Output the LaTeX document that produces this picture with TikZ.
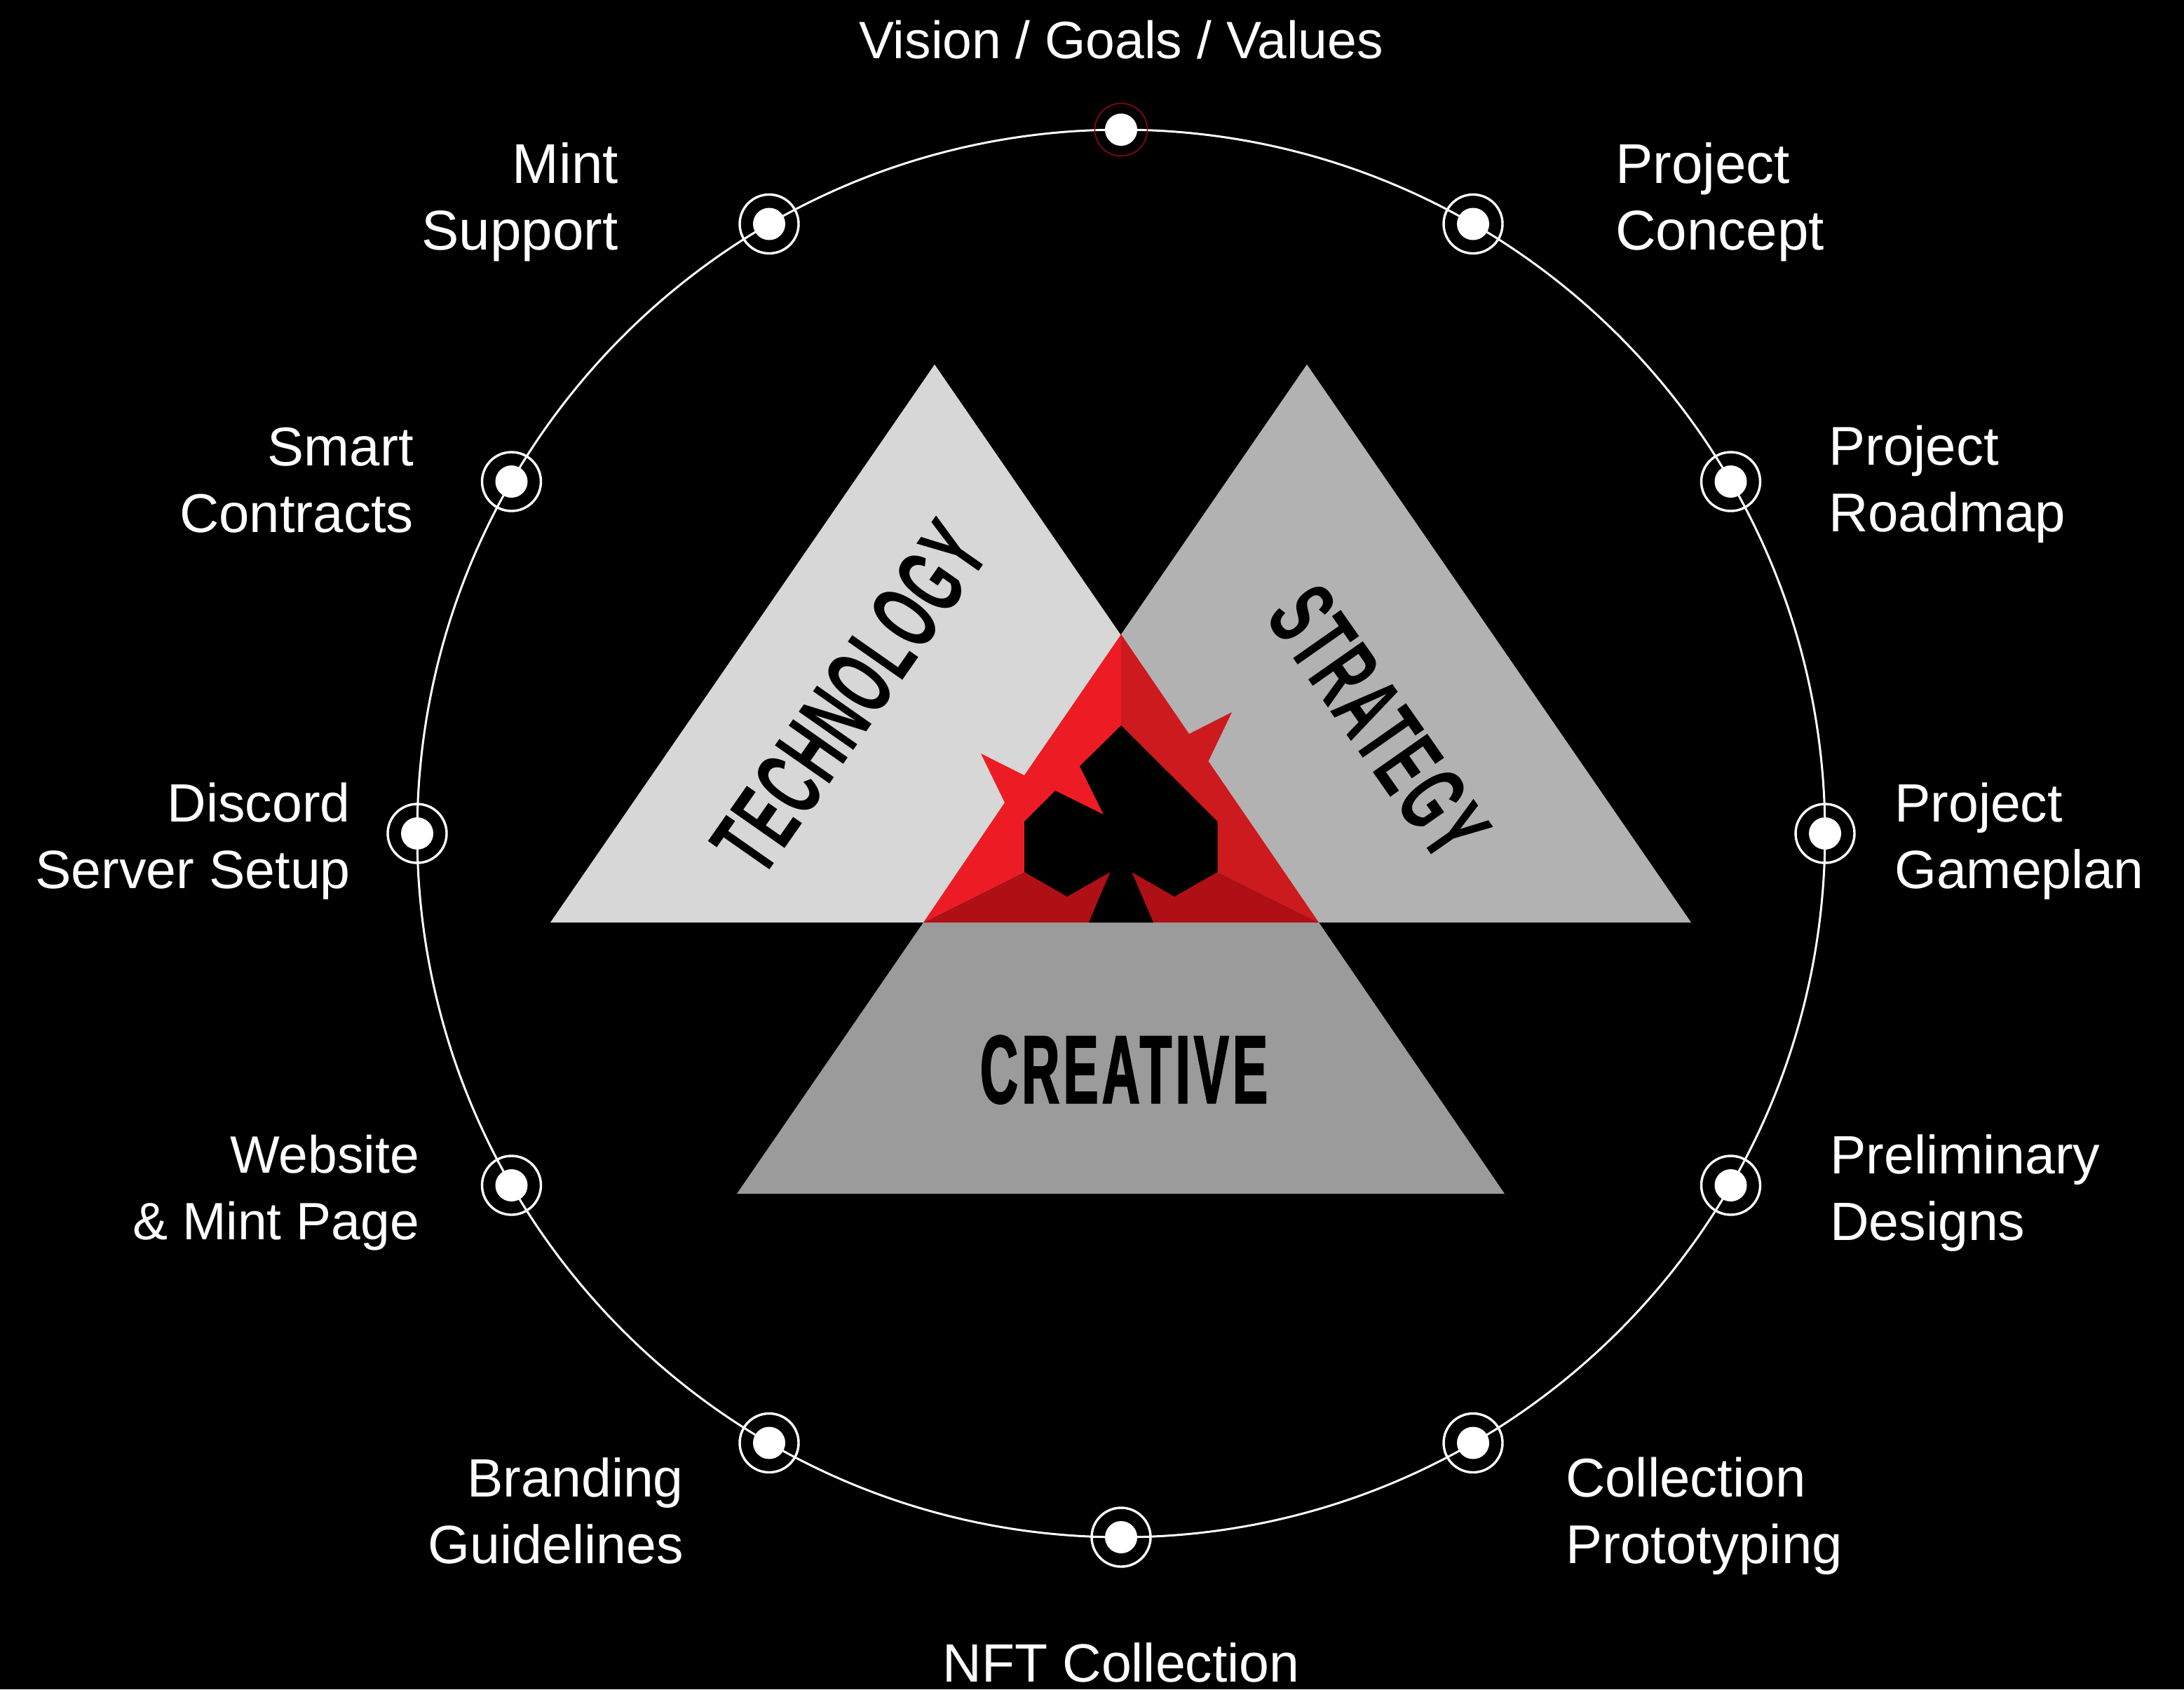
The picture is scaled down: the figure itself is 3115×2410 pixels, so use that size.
\documentclass[tikz,border=0pt]{standalone}
\usepackage{fontspec}
\setmainfont{Liberation Sans}
\newfontfamily\condfont[FakeStretch=0.54,LetterSpace=4,FakeBold=1.5]{Liberation Sans}
\newfontfamily\condfontb[FakeStretch=0.56,LetterSpace=2]{Liberation Sans}
\usetikzlibrary{calc}
\definecolor{techgrey}{HTML}{D7D7D7}
\definecolor{stratgrey}{HTML}{B2B2B2}
\definecolor{creagrey}{HTML}{9B9B9B}
\definecolor{redl}{HTML}{ED1C24}
\definecolor{redr}{HTML}{CC1A1E}
\definecolor{redb}{HTML}{AE1015}
\definecolor{ringred}{HTML}{8A0A10}
\tikzset{
  x=1pt,y=-1pt,
  lab/.style={inner sep=0pt,text=white,font=\fontsize{78}{95}\selectfont},
  labl/.style={lab,anchor=west,align=left},
  labr/.style={lab,anchor=east,align=right},
  labc/.style={lab,anchor=center,align=center},
  labs/.style={font=\fontsize{75}{95}\selectfont},
  labm/.style={font=\fontsize{77}{95}\selectfont},
  labb/.style={font=\fontsize{80}{95}\selectfont},
  dotn/.style={circle,fill=white,draw=none,minimum size=46pt,inner sep=0pt},
  ringn/.style={circle,draw=white,line width=3.4pt,minimum size=84pt,inner sep=0pt},
  ringr/.style={circle,draw=ringred,line width=1.6pt,minimum size=75pt,inner sep=0pt},
  ttl/.style={inner sep=0pt,text=black,font=\condfont\bfseries\fontsize{138}{138}\selectfont},
  ttlb/.style={inner sep=0pt,text=black,font=\condfontb\bfseries\fontsize{138}{138}\selectfont},
}
\begin{document}
\begin{tikzpicture}
\fill[black] (0,0) rectangle (3115,2410);
\useasboundingbox (0,0) rectangle (3115,2410);
\coordinate (c) at (1599,1189);
\draw[white,line width=3pt] (c) circle [radius=1004];
% triangles
\fill[techgrey] (785,1316) -- (1333,520) -- (1881,1316) -- cycle;
\fill[stratgrey] (1599,905) -- (1864,520) -- (2412,1316) -- (1599,1316) -- cycle;
\fill[creagrey] (1317,1316) -- (1881,1316) -- (2146,1703) -- (1051,1703) -- cycle;
% red centre
\fill[redl] (1599,905) -- (1599,1200) -- (1461,1244) -- (1317,1316) -- (1433,1145) -- (1399,1075) -- (1461,1106) -- cycle;
\fill[redr] (1599,905) -- (1696,1047) -- (1757,1016) -- (1723.5,1086) -- (1881,1316) -- (1736.5,1244) -- (1599,1200) -- cycle;
\fill[redb] (1317,1316) -- (1461,1244) -- (1599,1200) -- (1736.5,1244) -- (1881,1316) -- cycle;
% spade
\fill[black] (1599,1035) -- (1736.5,1172) -- (1736.5,1244) -- (1675,1279) -- (1614,1244) -- (1645,1316) -- (1553,1316) -- (1583.5,1244) -- (1522,1279) -- (1461,1244) -- (1461,1172) -- (1505,1128) -- (1574,1162) -- (1540,1093) -- cycle;
% titles
\node[ttlb,rotate=55] (tech) at (1212,995) {TECHNOLOGY};
\node[ttlb,rotate=-55] (strat) at (1967,1031) {STRATEGY};
\node[ttl] (crea) at (1603,1526) {CREATIVE};
% markers
\foreach \n/\a in {a/90,b/60,d/30,e/0,f/-30,g/-60,h/-90,i/-120,j/-150,k/180,l/150,m/120}{
  \node[dotn] (dot\n) at ($(c)+({1004*cos(\a)},{-1004*sin(\a)})$) {};
}
\node[ringr] (ringa) at (dota) {};
\foreach \n in {b,d,e,f,g,h,i,j,k,l,m}{\node[ringn] (ring\n) at (dot\n) {};}
% labels
\node[labc,labs] (la) at (1599,57) {Vision / Goals / Values};
\node[labl,labb] (lb) at (2304,288) {Project\\Concept};
\node[labl] (ld) at (2608,691) {Project\\Roadmap};
\node[labl,labm] (le) at (2702,1200) {Project\\Gameplan};
\node[labl,labm] (lf) at (2610,1702) {Preliminary\\Designs};
\node[labl] (lg) at (2233,2163) {Collection\\Prototyping};
\node[labc,labm] (lh) at (1599,2372) {NFT Collection};
\node[labr,labm] (li) at (975,2155) {Branding\\Guidelines};
\node[labr,labs] (lj) at (598,1702) {Website\\\& Mint Page};
\node[labr,labm] (lk) at (500,1200) {Discord\\Server Setup};
\node[labr] (ll) at (590,685) {Smart\\Contracts};
\node[labr,labb] (lm) at (882,288) {Mint\\Support};
\end{tikzpicture}
\end{document}
